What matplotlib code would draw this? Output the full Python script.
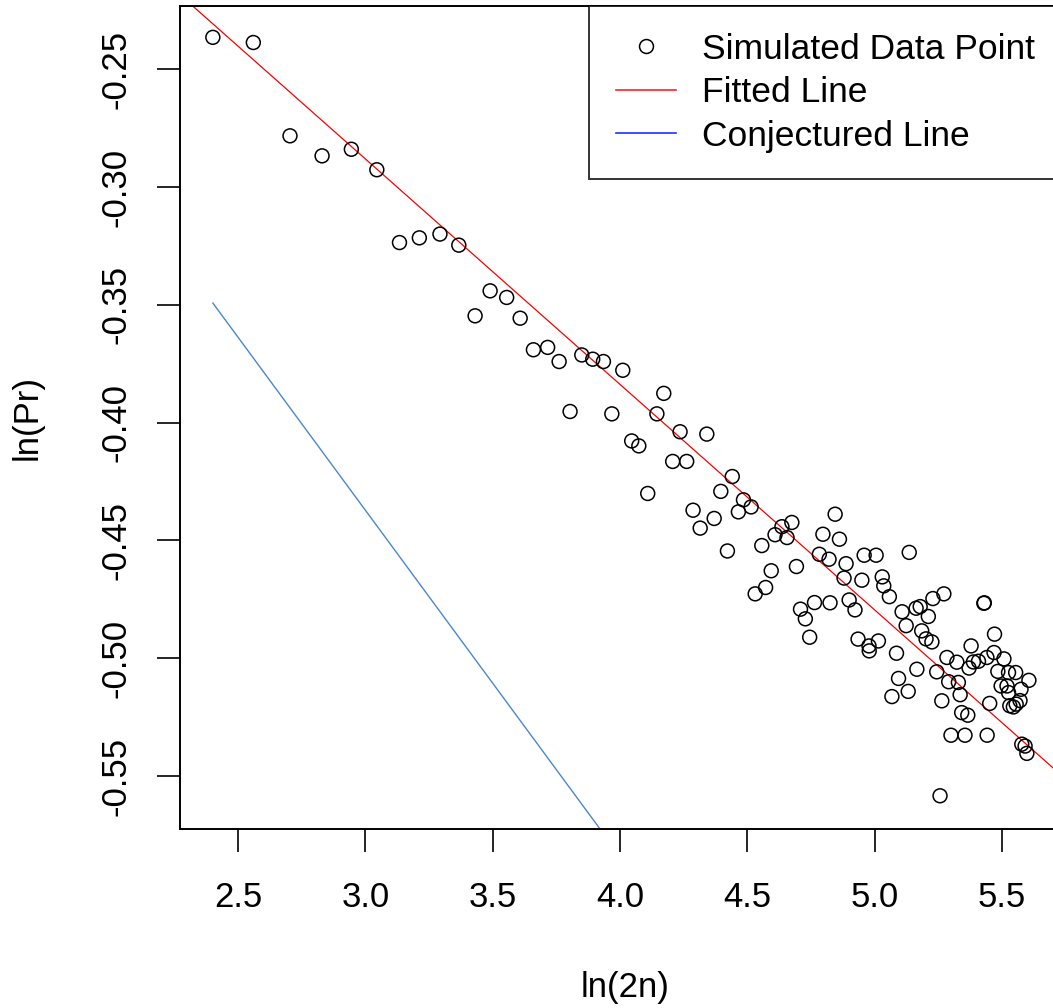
import matplotlib

matplotlib.use("Agg")
import matplotlib.pyplot as plt
import numpy as np
from matplotlib.lines import Line2D

plt.rcParams["font.family"] = ["Liberation Sans", "DejaVu Sans"]
plt.rcParams["axes.unicode_minus"] = False

# simulated points: ln(2n) vs ln(Pr)
ln_2n = [
    2.401, 2.560, 2.704, 2.830, 2.945, 3.045, 3.134, 3.212, 3.293, 3.367,
    3.490, 3.555, 3.431, 3.608, 3.660, 3.716, 3.761, 3.850, 3.893, 3.935,
    4.011, 4.172, 3.804, 3.968, 4.145, 4.236, 4.341, 4.046, 4.074, 4.207,
    4.262, 4.109, 4.287, 4.441, 4.396, 4.485, 4.515, 4.465, 4.370, 4.315,
    4.675, 4.636, 4.609, 4.656, 4.557, 4.422, 4.845, 4.797, 4.862, 4.783,
    4.821, 4.888, 4.594, 4.693, 4.572, 4.531, 4.880, 4.709, 4.764, 4.825,
    4.728, 4.745, 4.900, 4.959, 5.006, 5.136, 4.950, 5.030, 5.036, 5.058,
    4.923, 5.108, 5.163, 5.179, 5.229, 5.272, 5.211, 5.124, 5.185, 5.202,
    5.225, 4.935, 4.978, 5.015, 4.979, 5.086, 5.166, 5.094, 5.132, 5.068,
    5.429, 5.431, 5.471, 5.379, 5.284, 5.323, 5.244, 5.291, 5.329, 5.336,
    5.264, 5.388, 5.408, 5.371, 5.441, 5.469, 5.508, 5.484, 5.526, 5.554,
    5.606, 5.497, 5.520, 5.575, 5.526, 5.452, 5.531, 5.556, 5.571, 5.545,
    5.342, 5.366, 5.300, 5.355, 5.442, 5.578, 5.591, 5.598, 5.257,
]
ln_pr = [
    -0.2365, -0.2387, -0.2783, -0.2868, -0.2840, -0.2927, -0.3236, -0.3216, -0.3200, -0.3247,
    -0.3441, -0.3469, -0.3547, -0.3557, -0.3691, -0.3681, -0.3741, -0.3713, -0.3731, -0.3741,
    -0.3778, -0.3876, -0.3953, -0.3963, -0.3963, -0.4039, -0.4049, -0.4078, -0.4099, -0.4165,
    -0.4165, -0.4301, -0.4372, -0.4229, -0.4292, -0.4328, -0.4358, -0.4379, -0.4407, -0.4448,
    -0.4424, -0.4442, -0.4476, -0.4488, -0.4522, -0.4545, -0.4389, -0.4474, -0.4495, -0.4559,
    -0.4580, -0.4599, -0.4629, -0.4611, -0.4700, -0.4727, -0.4660, -0.4792, -0.4764, -0.4765,
    -0.4833, -0.4911, -0.4753, -0.4563, -0.4563, -0.4551, -0.4669, -0.4655, -0.4693, -0.4739,
    -0.4795, -0.4803, -0.4788, -0.4781, -0.4747, -0.4727, -0.4823, -0.4862, -0.4884, -0.4918,
    -0.4931, -0.4919, -0.4948, -0.4927, -0.4969, -0.4979, -0.5047, -0.5086, -0.5141, -0.5163,
    -0.4767, -0.4765, -0.4898, -0.4948, -0.4997, -0.5017, -0.5058, -0.5100, -0.5103, -0.5155,
    -0.5181, -0.5016, -0.5013, -0.5042, -0.4997, -0.4976, -0.5003, -0.5056, -0.5061, -0.5061,
    -0.5094, -0.5118, -0.5118, -0.5132, -0.5146, -0.5192, -0.5202, -0.5195, -0.5180, -0.5207,
    -0.5231, -0.5242, -0.5327, -0.5327, -0.5327, -0.5365, -0.5373, -0.5404, -0.5584,
]

# line parameters (intercept, slope)
FIT_A, FIT_B = -0.0010, -0.0957
CONJ_A, CONJ_B = 0.0032, -0.1468

X_TICKS = [2.5, 3.0, 3.5, 4.0, 4.5, 5.0, 5.5]
Y_TICKS = [-0.55, -0.50, -0.45, -0.40, -0.35, -0.30, -0.25]

FS = 25


def main():
    x = np.array(ln_2n)
    y = np.array(ln_pr)

    fig = plt.figure(figsize=(10.53, 10.08), dpi=100)
    ax = fig.add_axes([180 / 1053, 179 / 1008, 882 / 1053, 823 / 1008])

    ax.scatter(x, y, s=100, facecolors="none", edgecolors="black", linewidths=1.1, zorder=3)
    ax.axline((0.0, FIT_A), slope=FIT_B, color="red", lw=0.9, zorder=2)
    xc = np.array([x.min(), x.max()])
    ax.plot(xc, CONJ_A + CONJ_B * xc, color="#4a88cc", lw=1.0, zorder=2)

    ax.set_xlim(2.272, 5.736)
    ax.set_ylim(-0.5725, -0.2232)
    ax.set_xticks(X_TICKS)
    ax.set_xticklabels([f"{v:.1f}" for v in X_TICKS])
    ax.set_yticks(Y_TICKS)
    ax.set_yticklabels([f"{v:.2f}" for v in Y_TICKS])
    ax.tick_params(axis="both", direction="out", length=16.5, width=1.2, labelsize=FS, color="black")
    ax.tick_params(axis="x", pad=21)
    ax.tick_params(axis="y", pad=18, labelrotation=90)
    for lab in ax.get_yticklabels():
        lab.set_va("center")
    for sp in ax.spines.values():
        sp.set_linewidth(1.4)
        sp.set_color("black")

    ax.set_xlabel("ln(2n)", fontsize=FS)
    ax.xaxis.label.set_va("center")
    ax.xaxis.set_label_coords(0.505, -0.193)
    ax.set_ylabel("ln(Pr)", fontsize=FS)
    ax.yaxis.label.set_va("center")
    ax.yaxis.set_label_coords(-0.1735, 0.5)

    handles = [
        Line2D([], [], ls="none", marker="o", mfc="none", mec="black", ms=10, mew=1.1),
        Line2D([], [], color="#ff2020", lw=1.2),
        Line2D([], [], color="#2030ff", lw=1.2),
    ]
    labels = ["Simulated Data Point", "Fitted Line", "Conjectured Line"]
    leg = ax.legend(
        handles, labels, loc="upper right", fontsize=25.5, frameon=True, fancybox=False,
        borderaxespad=0, borderpad=0.75, labelspacing=0.3, handlelength=1.7,
        handletextpad=0.75,
    )
    leg.get_frame().set_edgecolor("black")
    leg.get_frame().set_linewidth(1.4)

    fig.savefig("out.png", dpi=100)
    plt.close(fig)


if __name__ == "__main__":
    main()
